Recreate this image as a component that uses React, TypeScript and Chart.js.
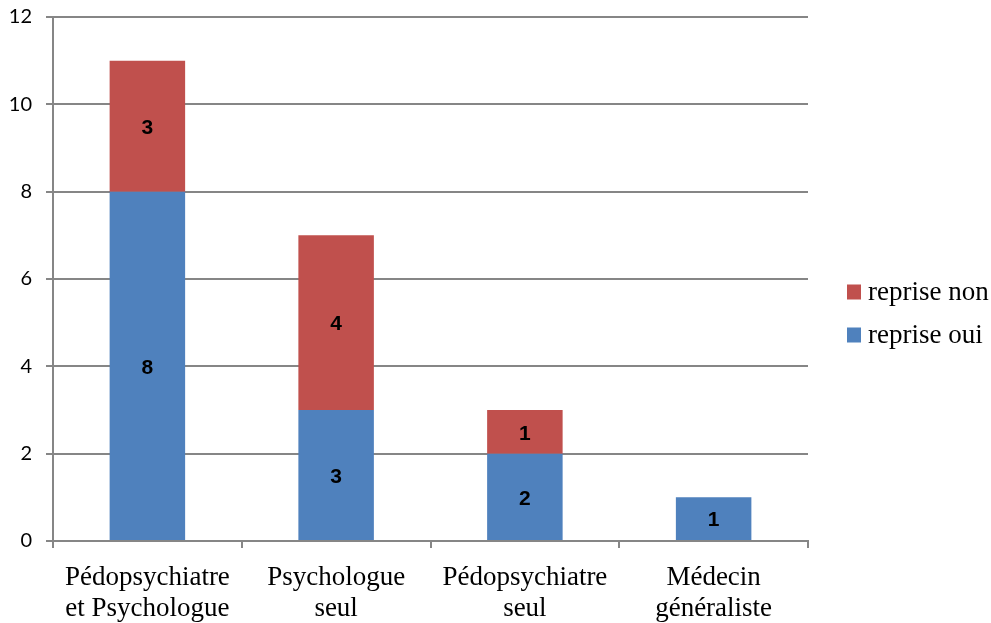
import React, { useEffect, useRef } from "react";
import { Chart, registerables } from "chart.js";

Chart.register(...registerables);

const categories: string[][] = [
  ["Pédopsychiatre", "et Psychologue"],
  ["Psychologue", "seul"],
  ["Pédopsychiatre", "seul"],
  ["Médecin", "généraliste"],
];
const repriseOui: (number | null)[] = [8, 3, 2, 1];
const repriseNon: (number | null)[] = [3, 4, 1, null];
const seriesNames = ["reprise oui", "reprise non"];
const seriesColors = ["#4F81BD", "#C0504D"];

const dataLabelPlugin = {
  id: "dataLabels",
  afterDatasetsDraw(chart: any) {
    const ctx = chart.ctx;
    ctx.save();
    ctx.font = "bold 21px 'Liberation Sans', sans-serif";
    ctx.fillStyle = "#000";
    ctx.textAlign = "center";
    ctx.textBaseline = "middle";
    chart.data.datasets.forEach((ds: any, di: number) => {
      const meta = chart.getDatasetMeta(di);
      meta.data.forEach((el: any, i: number) => {
        const v = ds.data[i];
        if (v === null || v === undefined) return;
        const { x, y, base } = el.getProps(["x", "y", "base"], true);
        ctx.fillText(String(v), x, (y + base) / 2 + 2);
      });
    });
    ctx.restore();
  },
};

const legendPlugin = {
  id: "customLegend",
  afterDraw(chart: any) {
    const ctx = chart.ctx;
    const ds = chart.data.datasets.slice().reverse();
    const left = chart.chartArea.right + 39;
    const centerY = 314;
    const spacing = 43;
    const startY = centerY - ((ds.length - 1) * spacing) / 2;
    ctx.save();
    ctx.font = "27px 'Liberation Serif', serif";
    ctx.textBaseline = "middle";
    ctx.textAlign = "left";
    ds.forEach((d: any, i: number) => {
      const y = startY + i * spacing;
      ctx.fillStyle = d.backgroundColor;
      ctx.fillRect(left, y - 8, 14, 15);
      ctx.fillStyle = "#000";
      ctx.fillText(d.label, left + 21, y);
    });
    ctx.restore();
  },
};

export default function App() {
  const ref = useRef<HTMLCanvasElement | null>(null);
  useEffect(() => {
    if (!ref.current) return;
    const chart = new Chart(ref.current, {
      type: "bar",
      data: {
        labels: categories,
        datasets: [
          {
            label: seriesNames[0],
            data: repriseOui,
            backgroundColor: seriesColors[0],
            categoryPercentage: 1,
            barPercentage: 0.4,
          },
          {
            label: seriesNames[1],
            data: repriseNon,
            backgroundColor: seriesColors[1],
            categoryPercentage: 1,
            barPercentage: 0.4,
          },
        ],
      },
      options: {
        animation: false,
        responsive: false,
        maintainAspectRatio: false,
        layout: { padding: { top: 17, right: 183, bottom: 0, left: 0 } },
        plugins: {
          legend: { display: false },
          tooltip: { enabled: false },
        },
        scales: {
          x: {
            stacked: true,
            afterFit: (s: any) => {
              s.height = 82;
              s.paddingLeft = 0;
              s.paddingRight = 0;
            },
            grid: {
              offset: true,
              drawOnChartArea: false,
              drawTicks: true,
              tickLength: 7,
              color: "#868686",
              lineWidth: 2,
            },
            border: { color: "#868686", width: 2 },
            ticks: {
              color: "#000",
              padding: 14,
              maxRotation: 0,
              autoSkip: false,
              font: { family: "'Liberation Serif', serif", size: 27, lineHeight: 1.15 },
            },
          },
          y: {
            stacked: true,
            min: 0,
            max: 12,
            afterFit: (s: any) => {
              s.width = 53;
              s.paddingTop = 0;
              s.paddingBottom = 0;
            },
            grid: {
              color: "#868686",
              lineWidth: 2,
              tickLength: 7,
            },
            border: { color: "#868686", width: 2 },
            ticks: {
              stepSize: 2,
              color: "#000",
              padding: 14,
              font: { family: "Lato, 'Liberation Sans', sans-serif", size: 20 },
            },
          },
        },
      },
      plugins: [dataLabelPlugin, legendPlugin],
    });
    return () => chart.destroy();
  }, []);
  return (
    <div style={{ position: "fixed", left: 0, top: 0, width: 991, height: 623, background: "#fff" }}>
      <canvas ref={ref} width={991} height={623} style={{ width: 991, height: 623 }} />
    </div>
  );
}
